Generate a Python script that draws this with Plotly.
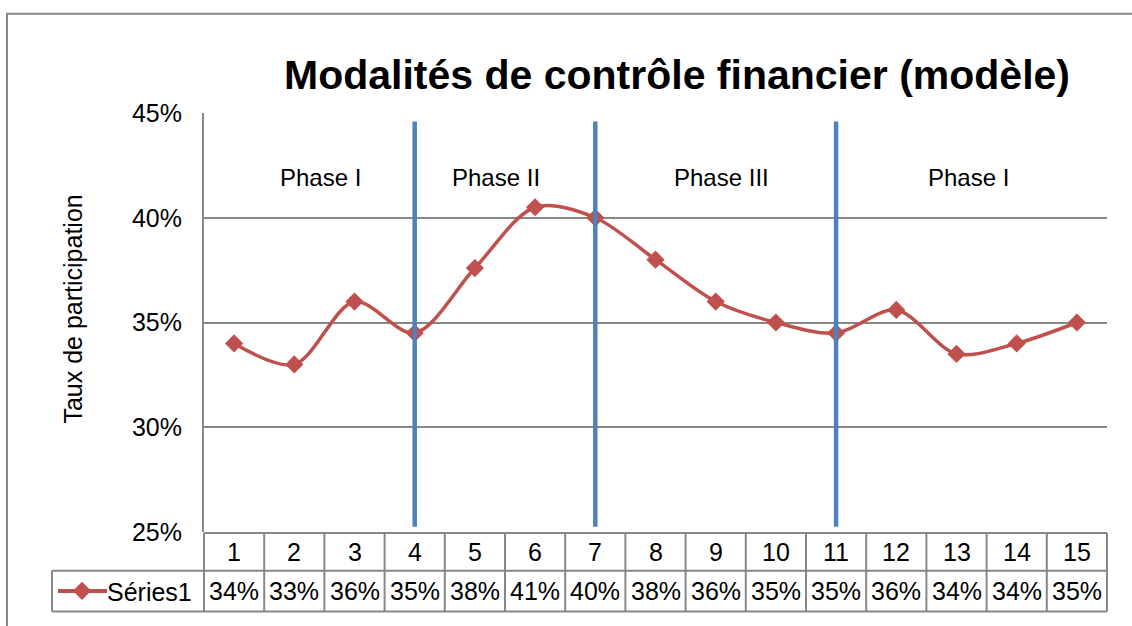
import math
import plotly.graph_objects as go

# data
categories = list(range(1, 16))
participation = [34.0, 33.0, 36.0, 34.5, 37.6, 40.5, 40.0, 38.0, 36.0, 35.0, 34.5, 35.6, 33.5, 34.0, 35.0]
series_name = "Séries1"
phase_bounds = [4, 7, 11]
phase_labels = ["Phase I", "Phase II", "Phase III", "Phase I"]
phase_label_x = [2.43, 5.35, 9.1, 13.2]

W, H = 1132, 626
L, R, T, B = 204, 25, 113, 91
pw, ph = W - L - R, H - T - B

grid_col = "#878787"
red = "#C0504D"
FONT = "Liberation Sans, Arial, sans-serif"
txt = dict(family=FONT, size=25, color="black")


def px_x(p):
    return (p - L) / pw


def px_y(p):
    return (H - B - p) / ph


def pct(v):
    return f"{math.floor(v + 0.5)}%"


fig = go.Figure()
fig.add_trace(go.Scatter(
    x=categories, y=participation, name=series_name,
    mode="lines+markers",
    line=dict(color=red, width=3.5, shape="spline", smoothing=0.9),
    marker=dict(symbol="diamond", size=14, color=red),
))

shapes = []
# phase separators
for b in phase_bounds:
    shapes.append(dict(type="line", xref="x", yref="y", x0=b, x1=b, y0=25.25, y1=44.6,
                       line=dict(color="#4F81BD", width=4.5)))

# data table under the plot
row_top, row_mid, row_bot = px_y(536), px_y(574), px_y(615)
tbl_left = px_x(52)
n = len(categories)
for i in range(n + 1):
    shapes.append(dict(type="line", xref="paper", yref="paper", x0=i / n, x1=i / n,
                       y0=row_bot, y1=row_top, line=dict(color=grid_col, width=2)))
for yy in (row_top, row_mid, row_bot):
    x0 = 0 if yy == row_top else tbl_left
    shapes.append(dict(type="line", xref="paper", yref="paper", x0=x0, x1=1,
                       y0=yy, y1=yy, line=dict(color=grid_col, width=2)))
shapes.append(dict(type="line", xref="paper", yref="paper", x0=tbl_left, x1=tbl_left,
                   y0=row_bot, y1=row_mid, line=dict(color=grid_col, width=2)))
# longer legend key line, as in the table legend cell
key_y = (row_mid + row_bot) / 2
shapes.append(dict(type="line", xref="paper", yref="paper", x0=px_x(58), x1=px_x(107),
                   y0=key_y, y1=key_y, line=dict(color=red, width=4)))

# outer chart frame
shapes.append(dict(type="rect", xref="paper", yref="paper", x0=px_x(7), x1=1.2,
                   y0=-0.4, y1=px_y(13), line=dict(color=grid_col, width=2)))

annotations = []
for lab, xp in zip(phase_labels, phase_label_x):
    annotations.append(dict(x=xp, y=41.9, xref="x", yref="y", text=lab, showarrow=False,
                            xanchor="center", yanchor="middle",
                            font=dict(family=FONT, size=24, color="black")))
for i, (c, v) in enumerate(zip(categories, participation)):
    xc = (i + 0.5) / n
    annotations.append(dict(x=xc, y=(row_top + row_mid) / 2, xref="paper", yref="paper",
                            text=str(c), showarrow=False, font=txt,
                            xanchor="center", yanchor="middle"))
    annotations.append(dict(x=xc, y=key_y, xref="paper", yref="paper",
                            text=pct(v), showarrow=False, font=txt,
                            xanchor="center", yanchor="middle"))
annotations.append(dict(x=px_x(73), y=px_y(311), xref="paper", yref="paper",
                        text="Taux de participation", textangle=-90, showarrow=False,
                        xanchor="center", yanchor="middle", font=txt))

fig.update_layout(
    width=W, height=H,
    margin=dict(l=L, r=R, t=T, b=B),
    paper_bgcolor="white", plot_bgcolor="white",
    title=dict(text="<b>Modalités de contrôle financier (modèle)</b>",
               x=677 / W, y=1 - 75 / H, xanchor="center", yanchor="middle",
               font=dict(family=FONT, size=41, color="black")),
    xaxis=dict(range=[0.5, 15.5], showticklabels=False, showgrid=False, zeroline=False,
               showline=False, ticks=""),
    yaxis=dict(range=[25, 45], dtick=5, ticksuffix="%", showgrid=True, gridcolor=grid_col,
               gridwidth=2, showline=True, linecolor=grid_col, linewidth=2, zeroline=False,
               ticks="", ticklabelstandoff=15, tickfont=txt),
    showlegend=True,
    legend=dict(x=px_x(57), y=key_y, xanchor="left", yanchor="middle",
                bgcolor="rgba(0,0,0,0)", font=txt, itemwidth=40,
                tracegroupgap=0),
    shapes=shapes,
    annotations=annotations,
)

fig.write_html("out.html", config={"displayModeBar": False},
               post_script="document.body.style.margin='0';")
